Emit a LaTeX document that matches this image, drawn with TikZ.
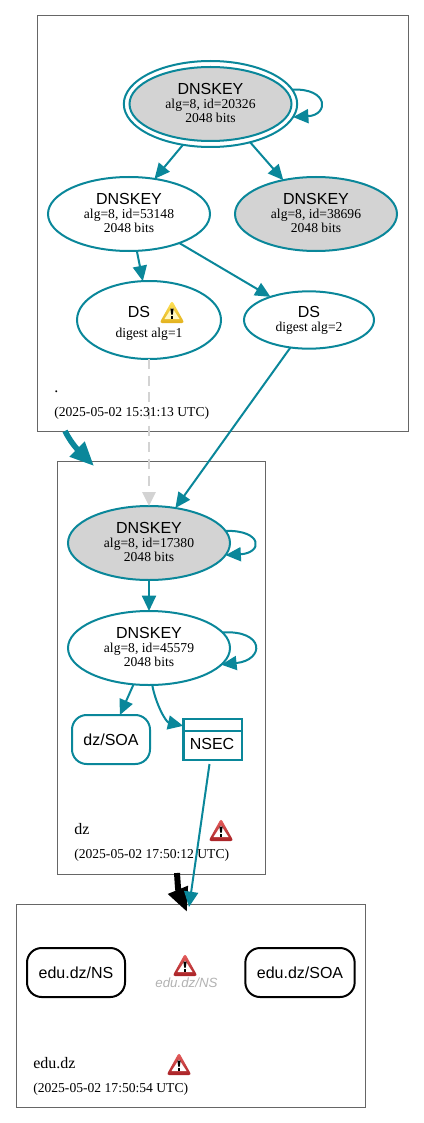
\documentclass[tikz,border=0pt]{standalone}
\usepackage{fontspec}
\setmainfont{Liberation Serif}
\newfontfamily\keyfont{Liberation Sans}
\usetikzlibrary{shapes.geometric,arrows.meta}
\definecolor{dnsteal}{HTML}{0A879A}
\definecolor{keygray}{HTML}{D3D3D3}
\definecolor{zonegray}{HTML}{666666}
\definecolor{warnredtop}{HTML}{E8605F}
\definecolor{warnredlow}{HTML}{A92327}
\definecolor{warnyelltop}{HTML}{FFE35A}
\definecolor{warnyelllow}{HTML}{E3B21E}
\definecolor{warnyellin}{HTML}{FFF8C4}
\newcommand{\keytext}[1]{{\fontsize{12}{10}\keyfont DNSKEY}\\alg=8, id=#1\\2048 bits\rule[-2pt]{0pt}{2pt}}

\begin{document}
\begin{tikzpicture}[
    x=0.75pt, y=-0.75pt,
    zonebox/.style={rectangle, draw=zonegray, line width=0.75pt, outer sep=0pt},
    keynode/.style={ellipse, draw=dnsteal, line width=1.5pt, inner sep=0pt, outer sep=0pt, minimum width=121.5pt, minimum height=55.5pt, align=center, font=\fontsize{10.2}{10.5}\selectfont},
    signode/.style={keynode, fill=keygray},
    rrbox/.style={rectangle, draw=dnsteal, line width=1.5pt, rounded corners=11pt, minimum height=36.75pt, outer sep=0pt, font=\fontsize{12}{12}\keyfont},
    nsrrbox/.style={rrbox, draw=black},
    zonelabel/.style={anchor=base west, inner sep=0pt, font=\fontsize{12}{12}\selectfont},
    stamplabel/.style={anchor=base west, inner sep=0pt, font=\fontsize{10.2}{10}\selectfont},
    arrow/.style={-{Triangle[length=11.5pt, width=10.5pt]}, dnsteal, line width=1.5pt},
    pics/warnmark/.style n args={3}{code={
        \shade[rounded corners=2pt, top color=#1, bottom color=#2] (0,-11.5) -- (12.5,11) -- (-12.5,11) -- cycle;
        \fill[#3] (0,-4.5) -- (7.5,7) -- (-7.5,7) -- cycle;
        \fill[black] (-1.6,-3.5) -- (1.6,-3.5) -- (0.8,2.5) -- (-0.8,2.5) -- cycle;
        \fill[black] (-1.4,3.5) rectangle (1.4,6.5);
    }}
]
\useasboundingbox (0,0) rectangle (424,1123);

% Zones
\node[zonebox, minimum width=277.9pt, minimum height=311.25pt] (rootzone) at (222.75,223.5) {};
\node[zonebox, minimum width=156pt, minimum height=309.75pt] (dzzone) at (161.5,667.5) {};
\node[zonebox, minimum width=262.1pt, minimum height=152.25pt] (eduzone) at (190.75,1005.5) {};

% Root keys
\node[keynode, minimum width=130pt, minimum height=64.5pt] (rootring) at (210.5,104) {};
\node[signode] (rootksk) at (210.5,104) {\keytext{20326}};
\node[keynode] (rootzsk) at (129,214) {\keytext{53148}};
\node[signode] (rootrev) at (316,214) {\keytext{38696}};

% Root DS
\node[keynode, minimum width=108pt, minimum height=58.5pt] (dsone) at (149,320) {{\fontsize{12}{10}\keyfont DS}\rule{15pt}{0pt}\rule{0pt}{13pt}\\[4.5pt]digest alg=1};
\node[keynode, minimum width=97.5pt, minimum height=43pt] (dstwo) at (309,320) {{\fontsize{12}{10}\keyfont DS}\\digest alg=2};
\pic at (172,312) {warnmark={warnyelltop}{warnyelllow}{warnyellin}};

% dz keys
\node[signode] (dzksk) at (149,543) {\keytext{17380}};
\node[keynode] (dzzsk) at (149,648) {\keytext{45579}};

% dz records
\node[rrbox, minimum width=58.5pt] (dzsoa) at (111,739.5) {dz/SOA};
\node[rectangle, draw=dnsteal, line width=2pt, minimum width=44pt, minimum height=30.75pt, outer sep=0pt] (nsec) at (212.5,739.5) {};
\node[inner sep=0pt, font=\fontsize{12}{12}\keyfont] (nsectext) at (212,743.5) {NSEC};
\coordinate (nsecleft) at (183,731);
\coordinate (nsecright) at (242,731);
\draw[dnsteal, line width=2pt] (nsecleft) -- (nsecright);

% edu.dz records
\node[nsrrbox, minimum width=73.5pt] (eduns) at (76,972.5) {edu.dz/NS};
\node[nsrrbox, minimum width=82pt] (edusoa) at (300,972.5) {edu.dz/SOA};
\pic at (185,965) {warnmark={warnredtop}{warnredlow}{white}};
\node[inner sep=0pt, text=black!30, font=\fontsize{10}{10}\keyfont\itshape] (edumissing) at (186.5,983) {edu.dz/NS};

% Arrows - root keys
\draw[arrow] (rootring.10) .. controls (329,88) and (329,115) .. (rootring.-9);
\draw[arrow] (rootring.-124) -- (rootzsk.54);
\draw[arrow] (rootring.-44) -- (rootrev.134);
\draw[arrow] (rootzsk.-78) -- (dsone.99);
\draw[arrow] (rootzsk.-30) -- (dstwo.149);

% Arrows - delegation
\draw[-{Triangle[length=10.5pt, width=10pt]}, keygray, line width=1.5pt, dash pattern=on 7.5pt off 5pt] (dsone.south) -- (dzksk.north);
\draw[arrow] (dstwo.-124) -- (dzksk.53);

% Arrows - dz keys
\draw[arrow] (dzksk.9) .. controls (263,530) and (263,553) .. (dzksk.-9);
\draw[arrow] (dzksk.south) -- (dzzsk.north);
\draw[arrow] (dzzsk.12) .. controls (265,630) and (265,660) .. (dzzsk.-13);
\draw[arrow] (dzzsk.-113) -- (dzsoa.70);
\draw[arrow] (dzzsk.-85) .. controls (156,705) and (166,722) .. (nsec.155);

% Zone arrows
\coordinate (rootout) at (65,431);
\coordinate (dzin) at (94,466);
\draw[-{Triangle[length=18pt, width=15pt]}, dnsteal, line width=4.2pt] (rootout) .. controls (70,441) and (76,448) .. (dzin);
\coordinate (dzout) at (177,873);
\coordinate (eduin) at (187,912);
\draw[-{Triangle[length=18pt, width=15pt]}, black, line width=4.5pt] (dzout) .. controls (177.5,880) and (178,890) .. (eduin);
\coordinate (nsecout) at (209.5,764);
\coordinate (nsecin) at (189,907);
\draw[arrow] (nsecout) -- (nsecin);

% Root label
\node[zonelabel] (rootname) at (54,392) {.};
\node[stamplabel] (rootstamp) at (54,416) {(2025-05-02 15:31:13 UTC)};

% dz label
\node[zonelabel] (dzname) at (74,834) {dz};
\node[stamplabel] (dzstamp) at (74,858) {(2025-05-02 17:50:12 UTC)};
\pic at (221,830) {warnmark={warnredtop}{warnredlow}{white}};

% edu.dz label
\node[zonelabel] (eduname) at (33,1068) {edu.dz};
\node[stamplabel] (edustamp) at (33,1092) {(2025-05-02 17:50:54 UTC)};
\pic at (179,1064) {warnmark={warnredtop}{warnredlow}{white}};

\end{tikzpicture}
\end{document}
